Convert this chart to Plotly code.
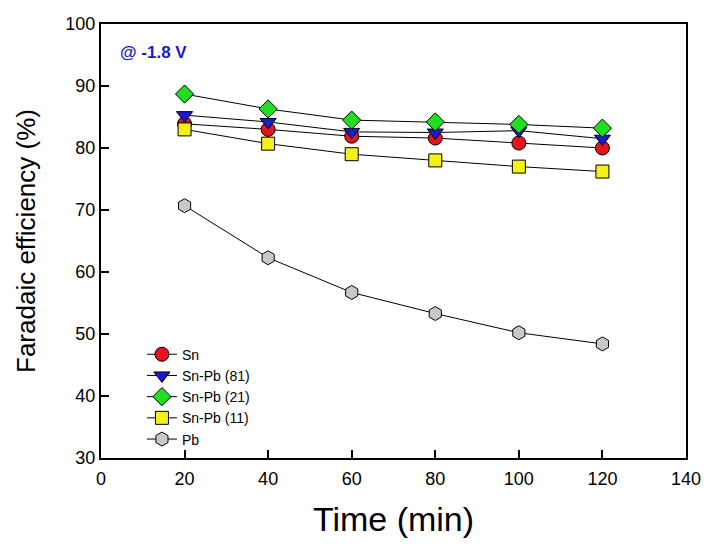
import plotly.graph_objects as go

time_min = [20, 40, 60, 80, 100, 120]
fe_sn = [83.9, 83.0, 81.9, 81.6, 80.8, 80.0]
fe_snpb81 = [85.3, 84.2, 82.6, 82.5, 82.8, 81.5]
fe_snpb21 = [88.7, 86.3, 84.5, 84.2, 83.8, 83.2]
fe_snpb11 = [83.0, 80.7, 79.0, 78.0, 77.0, 76.2]
fe_pb = [70.7, 62.3, 56.7, 53.3, 50.2, 48.4]

series = [
    ("Sn", fe_sn, "circle", "#e8141c"),
    ("Sn-Pb (81)", fe_snpb81, "triangle-down", "#1a1ad0"),
    ("Sn-Pb (21)", fe_snpb21, "diamond", "#22dd22"),
    ("Sn-Pb (11)", fe_snpb11, "square", "#f5f01a"),
    ("Pb", fe_pb, "hexagon", "#c8c8c8"),
]

fig = go.Figure()
for name, vals, sym, col in series:
    fig.add_trace(go.Scatter(
        x=time_min, y=vals, name=name, mode="lines+markers",
        line=dict(color="black", width=1),
        marker=dict(symbol=sym, size=14 if sym != "square" else 13, color=col,
                    line=dict(color="black", width=1)),
    ))

fig.add_annotation(x=0.029, y=0.935, xref="paper", yref="paper", text="<b>@ -1.8 V</b>",
                   showarrow=False, xanchor="left", yanchor="middle",
                   font=dict(family="Liberation Sans, Arial", size=17, color="#1a1ad0"))

axis_common = dict(showline=True, linecolor="black", linewidth=2, mirror=True,
                   ticks="inside", ticklen=8, tickwidth=1.5, tickcolor="black",
                   showgrid=False, zeroline=False, automargin=False,
                   tickfont=dict(family="Liberation Sans, Arial", size=18, color="black"))

fig.update_layout(
    width=716, height=544,
    margin=dict(l=93, r=38, t=16, b=94),
    plot_bgcolor="white", paper_bgcolor="white",
    xaxis=dict(range=[0, 140], dtick=20, ticklabelstandoff=3,
               title=dict(text="Time (min)", font=dict(family="Liberation Sans, Arial", size=34, color="black"), standoff=20),
               **axis_common),
    yaxis=dict(range=[30, 100], dtick=10,
               title=dict(text="Faradaic efficiency (%)", font=dict(family="Liberation Sans, Arial", size=26, color="black"), standoff=22),
               **axis_common),
    legend=dict(x=0.07, y=0.275, xanchor="left", yanchor="top",
                bgcolor="rgba(0,0,0,0)", tracegroupgap=0,
                font=dict(family="Liberation Sans, Arial", size=14, color="black")),
    showlegend=True,
)

fig.write_html("out.html")
